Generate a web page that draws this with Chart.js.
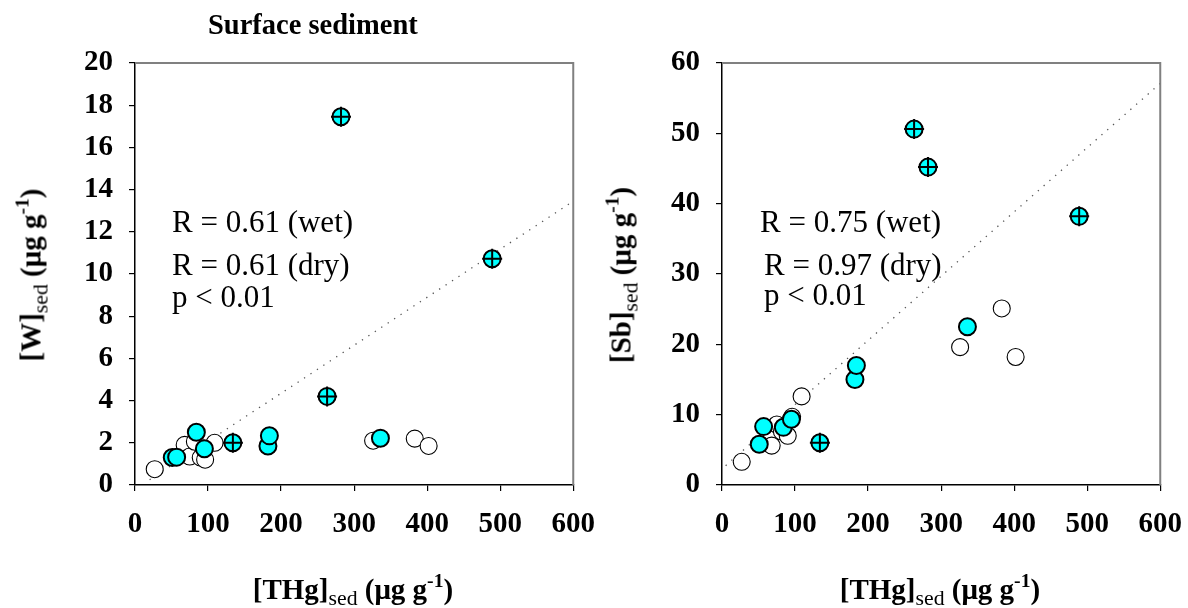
<!DOCTYPE html>
<html>
<head>
<meta charset="utf-8">
<script src="https://cdn.jsdelivr.net/npm/chart.js@4"></script>
<style>
  html, body { margin:0; padding:0; background:#fff; }
  body { width:1188px; height:608px; position:relative; overflow:hidden; font-family:"Liberation Serif","Times New Roman",serif; }
  canvas { position:absolute; top:0; }
  .t { position:absolute; white-space:nowrap; color:#000; line-height:1; }
  .ann { font-size:31px; }
  .bold { font-weight:bold; }
  .axt { font-size:29px; font-weight:bold; transform:translate(-50%,-50%); }
  .rot { transform:translate(-50%,-50%) rotate(-90deg); }
  sub { font-size:0.75em; font-weight:normal; vertical-align:-0.3em; line-height:0; }
  sup { font-size:0.68em; vertical-align:0.6em; line-height:0; }
</style>
</head>
<body>
<canvas id="cW" width="611" height="608" style="left:0px;width:611px;height:608px"></canvas>
<canvas id="cSb" width="604" height="608" style="left:594px;width:604px;height:608px"></canvas>

<div class="t bold" style="left:208px;top:11px;font-size:28.5px;">Surface sediment</div>

<div class="t ann" style="left:172px;top:206px;">R = 0.61 (wet)</div>
<div class="t ann" style="left:172px;top:249px;">R = 0.61 (dry)</div>
<div class="t ann" style="left:172px;top:281px;">p &lt; 0.01</div>

<div class="t ann" style="left:760px;top:206px;">R = 0.75 (wet)</div>
<div class="t ann" style="left:764px;top:249px;">R = 0.97 (dry)</div>
<div class="t ann" style="left:764px;top:279px;">p &lt; 0.01</div>

<div class="t axt rot" style="left:31px;top:275px;">[W]<sub>sed</sub> (μg g<sup>-1</sup>)</div>
<div class="t axt rot" style="left:621px;top:275px;">[Sb]<sub>sed</sub> (μg g<sup>-1</sup>)</div>
<div class="t axt" style="left:353px;top:589px;">[THg]<sub>sed</sub> (μg g<sup>-1</sup>)</div>
<div class="t axt" style="left:940px;top:589px;">[THg]<sub>sed</sub> (μg g<sup>-1</sup>)</div>

<script>
// ---- data ----
const xTicks = [0, 100, 200, 300, 400, 500, 600];
const wTicks = [0, 2, 4, 6, 8, 10, 12, 14, 16, 18, 20];
const sbTicks = [0, 10, 20, 30, 40, 50, 60];

// dry season (open circles)
const thgDry = [27, 68, 75, 82, 90, 96, 109, 326, 383, 402];
const wDry   = [0.75, 1.9, 1.35, 2.05, 1.3, 1.2, 2.0, 2.1, 2.2, 1.85];
const sbDry  = [3.3, 5.6, 8.6, 7.6, 7.0, 9.7, 12.6, 19.6, 25.1, 18.2];

// wet season (cyan circles)
const thgWet = [51, 57, 84, 95, 182, 184, 336];
const wWet   = [1.3, 1.32, 2.5, 1.72, 1.85, 2.33, 2.22];
const sbWet  = [5.8, 8.3, 8.2, 9.35, 15.0, 17.0, 22.5];

// wet season, crossed symbols
const thgCross = [134, 263, 282, 489];
const wCross   = [2.0, 4.2, 17.45, 10.72];
const sbCross  = [6.0, 50.6, 45.2, 38.2];

// regression (dotted) lines
const wFitX  = [20, 600];
const wFitY  = [0.25, 13.45];
const sbFitX = [5, 600];
const sbFitY = [2.75, 57.1];

// ---- helpers ----
const FONT = '"Liberation Serif","Times New Roman",serif';
const pts = (xs, ys) => xs.map((x, i) => ({x: x, y: ys[i]}));

const frame = {
  id: 'frame',
  afterDatasetsDraw(chart) {
    const a = chart.chartArea, c = chart.ctx;
    c.save();
    c.strokeStyle = '#808080';
    c.lineWidth = 2;
    c.beginPath();
    c.moveTo(a.left, a.top);
    c.lineTo(a.right, a.top);
    c.lineTo(a.right, a.bottom);
    c.stroke();
    c.restore();
  }
};

function makeChart(id, yTicks, yMax, yDry, yWet, yCross, fitX, fitY, yAxisW, padRight) {
  return new Chart(document.getElementById(id), {
    type: 'scatter',
    data: {
      datasets: [
        { type: 'line', data: pts(fitX, fitY), borderColor: '#555', borderWidth: 1.3,
          borderDash: [1.3, 6.4], pointRadius: 0, fill: false, order: 5 },
        { data: pts(thgDry, yDry), pointRadius: 8.5, pointBackgroundColor: '#fff',
          pointBorderColor: '#000', pointBorderWidth: 1.1, order: 4 },
        { data: pts(thgWet, yWet), pointRadius: 8.5, pointBackgroundColor: '#00ffff',
          pointBorderColor: '#000', pointBorderWidth: 2, order: 3 },
        { data: pts(thgCross, yCross), pointRadius: 8.5, pointBackgroundColor: '#00ffff',
          pointBorderColor: '#000', pointBorderWidth: 2, order: 2 },
        { data: pts(thgCross, yCross), pointStyle: 'cross', pointRadius: 10,
          pointBorderColor: '#000', pointBorderWidth: 2, order: 1 }
      ]
    },
    options: {
      responsive: false,
      animation: false,
      events: [],
      layout: { padding: { top: 63, right: padRight, left: 0, bottom: 0 } },
      plugins: { legend: { display: false }, tooltip: { enabled: false } },
      scales: {
        x: {
          type: 'linear', min: 0, max: 600,
          afterBuildTicks: s => { s.ticks = xTicks.map(v => ({value: v})); },
          afterFit: s => { s.height = 123; },
          grid: { display: true, drawOnChartArea: false, drawTicks: true, tickLength: 6, color: '#000', lineWidth: 1.2 },
          border: { display: true, color: '#000', width: 1.5 },
          ticks: { color: '#000', padding: 16, maxRotation: 0, font: { family: FONT, size: 29, weight: 'bold' } }
        },
        y: {
          type: 'linear', min: 0, max: yMax,
          afterBuildTicks: s => { s.ticks = yTicks.map(v => ({value: v})); },
          afterFit: s => { s.width = yAxisW; },
          grid: { display: true, drawOnChartArea: false, drawTicks: true, tickLength: 6, color: '#000', lineWidth: 1.2 },
          border: { display: true, color: '#000', width: 1.5 },
          ticks: { color: '#000', padding: 16, font: { family: FONT, size: 29, weight: 'bold' } }
        }
      }
    },
    plugins: [frame]
  });
}

makeChart('cW', wTicks, 20, wDry, wWet, wCross, wFitX, wFitY, 135, 26);
makeChart('cSb', sbTicks, 60, sbDry, sbWet, sbCross, sbFitX, sbFitY, 128, 27);
</script>
</body>
</html>
